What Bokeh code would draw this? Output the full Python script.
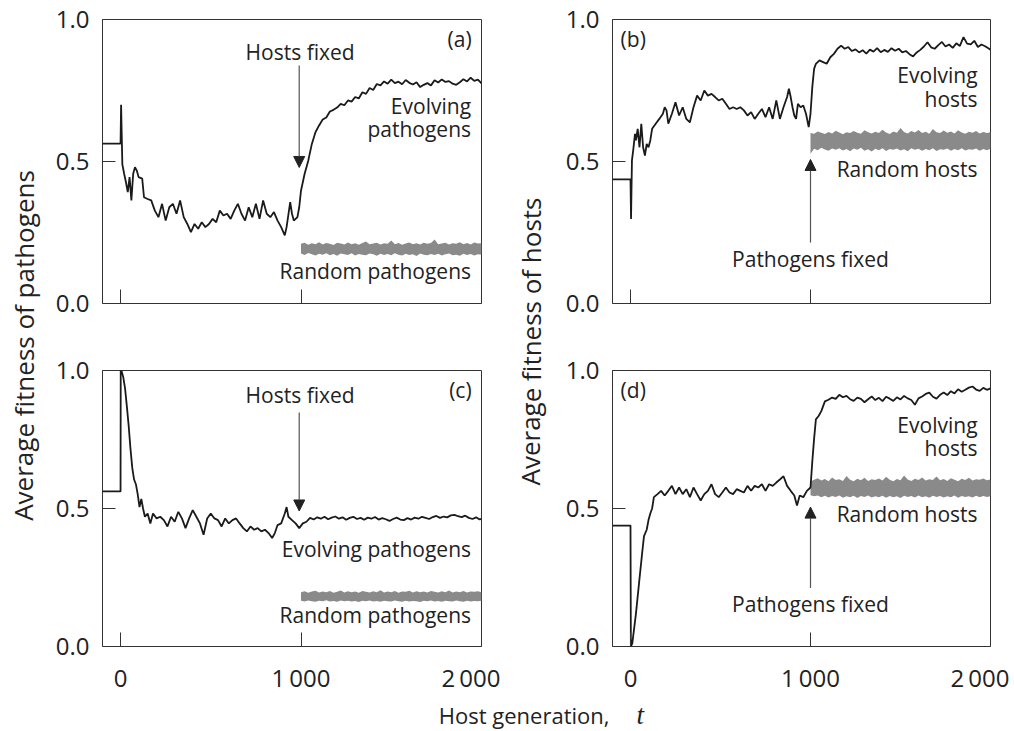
from bokeh.plotting import figure
from bokeh.layouts import row, column
from bokeh.models import Range1d, FixedTicker, PrintfTickFormatter, Label, Arrow, NormalHead
from bokeh.embed import file_html
from bokeh.resources import INLINE

FONT = "Open Sans"
TXT = "#222222"
LINE = "#1a1a1a"
GRAY = "#8a8a8a"

tick_marks = [0, 1000, 2000]
# the "2 000" label sits a little left of its tick so it stays inside the page
label_pos = [0, 1000, 1942]
x_tick_labels = {0: "0", 1000: "1\u2009000", 1942: "2\u2009000"}
y_ticks = [0, 0.5, 1.0]

# ---- panel (a): evolving pathogens, hosts fixed at t=1000
xa = [-100, 0, 3, 10, 20, 30, 40, 50, 60, 70,
      80, 90, 100, 120, 130, 150, 170, 190, 210, 230,
      250, 270, 290, 310, 330, 350, 370, 390, 410, 430,
      450, 470, 490, 510, 530, 550, 570, 590, 610, 630,
      650, 670, 690, 710, 730, 750, 770, 790, 810, 830,
      850, 870, 890, 910, 920, 940, 950, 960, 980, 990,
      1000, 1020, 1040, 1060, 1080, 1100, 1120, 1140, 1160, 1180,
      1200, 1220, 1240, 1260, 1280, 1300, 1320, 1340, 1360, 1380,
      1400, 1420, 1440, 1460, 1480, 1500, 1520, 1540, 1560, 1580,
      1600, 1620, 1640, 1660, 1680, 1700, 1720, 1740, 1760, 1780,
      1800, 1820, 1840, 1860, 1880, 1900, 1920, 1940, 1960, 1980,
      2000]
ya = [0.563, 0.563, 0.700, 0.490, 0.457, 0.427, 0.392, 0.445, 0.363, 0.457,
      0.480, 0.468, 0.445, 0.440, 0.374, 0.368, 0.363, 0.327, 0.304, 0.351,
      0.292, 0.339, 0.351, 0.316, 0.363, 0.304, 0.280, 0.251, 0.280, 0.263,
      0.286, 0.269, 0.280, 0.298, 0.286, 0.327, 0.310, 0.316, 0.298, 0.327,
      0.351, 0.316, 0.292, 0.339, 0.304, 0.351, 0.298, 0.363, 0.316, 0.304,
      0.322, 0.292, 0.269, 0.240, 0.269, 0.357, 0.316, 0.292, 0.304, 0.339,
      0.398, 0.457, 0.503, 0.562, 0.603, 0.627, 0.648, 0.655, 0.676, 0.682,
      0.690, 0.703, 0.698, 0.715, 0.711, 0.727, 0.722, 0.744, 0.738, 0.759,
      0.752, 0.773, 0.768, 0.782, 0.774, 0.788, 0.776, 0.781, 0.772, 0.787,
      0.777, 0.771, 0.779, 0.762, 0.770, 0.776, 0.768, 0.786, 0.778, 0.789,
      0.780, 0.783, 0.774, 0.770, 0.779, 0.790, 0.782, 0.795, 0.784, 0.788,
      0.775]
rand_a_hi = [0.210, 0.214, 0.207, 0.212, 0.209, 0.216, 0.208, 0.213, 0.210, 0.206,
             0.214, 0.211, 0.208, 0.215, 0.209, 0.212, 0.207, 0.213, 0.218, 0.209,
             0.211, 0.214, 0.208, 0.212, 0.210, 0.222, 0.209, 0.213, 0.207, 0.211,
             0.215, 0.209, 0.212, 0.208, 0.214, 0.210, 0.213, 0.225, 0.209, 0.211,
             0.214, 0.208, 0.212, 0.210, 0.216, 0.209, 0.213, 0.208, 0.215, 0.211,
             0.212]
rand_a_lo = [0.176, 0.171, 0.178, 0.173, 0.169, 0.175, 0.172, 0.177, 0.170, 0.174,
             0.168, 0.176, 0.173, 0.171, 0.177, 0.169, 0.174, 0.172, 0.170, 0.176,
             0.173, 0.168, 0.175, 0.171, 0.174, 0.170, 0.177, 0.172, 0.169, 0.175,
             0.171, 0.173, 0.167, 0.176, 0.172, 0.170, 0.174, 0.171, 0.175, 0.169,
             0.173, 0.176, 0.170, 0.172, 0.168, 0.175, 0.171, 0.174, 0.169, 0.173,
             0.172]

# ---- panel (b): evolving hosts, pathogens fixed at t=1000
xb = [-100, 0, 3, 8, 15, 25, 30, 40, 50, 60,
      70, 80, 90, 100, 110, 120, 140, 160, 180, 190,
      200, 210, 230, 250, 270, 290, 310, 330, 350, 370,
      390, 410, 430, 450, 470, 490, 510, 530, 550, 570,
      590, 610, 630, 650, 670, 690, 710, 730, 750, 770,
      790, 810, 830, 850, 870, 880, 890, 900, 910, 920,
      930, 945, 960, 975, 990, 1000, 1010, 1020, 1030, 1050,
      1070, 1090, 1110, 1130, 1150, 1170, 1190, 1210, 1230, 1250,
      1270, 1290, 1310, 1330, 1350, 1370, 1390, 1410, 1430, 1450,
      1470, 1490, 1510, 1530, 1550, 1570, 1590, 1610, 1630, 1650,
      1670, 1690, 1710, 1730, 1750, 1770, 1790, 1810, 1830, 1850,
      1870, 1890, 1910, 1930, 1950, 1970, 1990, 2000]
yb = [0.437, 0.437, 0.298, 0.504, 0.539, 0.597, 0.574, 0.615, 0.550, 0.633,
      0.550, 0.521, 0.562, 0.550, 0.574, 0.615, 0.633, 0.650, 0.668, 0.691,
      0.680, 0.633, 0.668, 0.709, 0.662, 0.691, 0.650, 0.638, 0.691, 0.732,
      0.715, 0.750, 0.732, 0.738, 0.727, 0.715, 0.721, 0.703, 0.685, 0.691,
      0.685, 0.691, 0.680, 0.662, 0.674, 0.650, 0.668, 0.685, 0.656, 0.691,
      0.650, 0.715, 0.650, 0.691, 0.727, 0.756, 0.727, 0.691, 0.662, 0.650,
      0.703, 0.691, 0.697, 0.668, 0.621, 0.668, 0.762, 0.826, 0.844, 0.856,
      0.850, 0.844, 0.867, 0.879, 0.897, 0.908, 0.897, 0.903, 0.889, 0.895,
      0.884, 0.892, 0.880, 0.894, 0.887, 0.899, 0.885, 0.893, 0.886, 0.899,
      0.890, 0.897, 0.884, 0.889, 0.878, 0.870, 0.884, 0.893, 0.905, 0.920,
      0.902, 0.897, 0.910, 0.921, 0.905, 0.912, 0.900, 0.916, 0.907, 0.938,
      0.915, 0.912, 0.925, 0.903, 0.912, 0.906, 0.898, 0.893]
rand_b_hi = [0.600, 0.598, 0.606, 0.601, 0.597, 0.604, 0.599, 0.608, 0.602, 0.596,
             0.603, 0.600, 0.607, 0.601, 0.598, 0.610, 0.603, 0.599, 0.605, 0.600,
             0.612, 0.602, 0.597, 0.606, 0.601, 0.618, 0.604, 0.599, 0.607, 0.602,
             0.611, 0.600, 0.605, 0.598, 0.614, 0.603, 0.600, 0.609, 0.601, 0.606,
             0.599, 0.610, 0.602, 0.598, 0.605, 0.601, 0.607, 0.599, 0.604, 0.600,
             0.603]
rand_b_lo = [0.527, 0.545, 0.540, 0.548, 0.542, 0.538, 0.546, 0.541, 0.547, 0.539,
             0.544, 0.536, 0.546, 0.541, 0.548, 0.538, 0.543, 0.535, 0.545, 0.540,
             0.547, 0.537, 0.544, 0.541, 0.546, 0.539, 0.543, 0.536, 0.547, 0.541,
             0.545, 0.538, 0.544, 0.540, 0.547, 0.537, 0.543, 0.541, 0.546, 0.538,
             0.544, 0.540, 0.547, 0.539, 0.543, 0.541, 0.546, 0.538, 0.544, 0.540,
             0.545]

# ---- panel (c): evolving pathogens, hosts fixed at t=1000
xc = [-100, 0, 1, 5, 15, 25, 35, 45, 55, 65,
      75, 85, 95, 105, 115, 125, 135, 150, 165, 180,
      200, 220, 240, 260, 280, 300, 320, 340, 360, 380,
      400, 420, 440, 460, 480, 500, 520, 540, 560, 580,
      600, 620, 640, 660, 680, 700, 720, 740, 760, 780,
      800, 820, 840, 855, 870, 890, 910, 920, 930, 950,
      970, 990, 1010, 1030, 1050, 1070, 1090, 1110, 1130, 1150,
      1170, 1190, 1210, 1230, 1250, 1270, 1290, 1310, 1330, 1350,
      1370, 1390, 1410, 1430, 1450, 1470, 1490, 1510, 1530, 1550,
      1570, 1590, 1610, 1630, 1650, 1670, 1690, 1710, 1730, 1750,
      1770, 1790, 1810, 1830, 1850, 1870, 1890, 1910, 1930, 1950,
      1970, 1990, 2000]
yc = [0.562, 0.562, 1.000, 1.000, 0.976, 0.935, 0.870, 0.800, 0.717, 0.647,
      0.605, 0.588, 0.552, 0.505, 0.535, 0.499, 0.470, 0.482, 0.446, 0.482,
      0.464, 0.470, 0.458, 0.435, 0.470, 0.452, 0.488, 0.464, 0.429, 0.464,
      0.494, 0.470, 0.446, 0.405, 0.464, 0.482, 0.464, 0.458, 0.435, 0.464,
      0.446, 0.458, 0.464, 0.446, 0.429, 0.417, 0.435, 0.423, 0.429, 0.417,
      0.423, 0.411, 0.393, 0.411, 0.440, 0.446, 0.482, 0.505, 0.470, 0.458,
      0.446, 0.429, 0.446, 0.452, 0.466, 0.460, 0.468, 0.463, 0.470, 0.461,
      0.467, 0.471, 0.463, 0.468, 0.459, 0.466, 0.470, 0.462, 0.466, 0.459,
      0.467, 0.463, 0.469, 0.460, 0.465, 0.461, 0.455, 0.462, 0.467, 0.460,
      0.458, 0.465, 0.460, 0.467, 0.463, 0.470, 0.466, 0.462, 0.469, 0.473,
      0.466, 0.471, 0.468, 0.475, 0.477, 0.472, 0.469, 0.474, 0.466, 0.462,
      0.468, 0.460, 0.463]
rand_c_hi = [0.197, 0.200, 0.195, 0.199, 0.202, 0.196, 0.199, 0.197, 0.201, 0.195,
             0.198, 0.203, 0.196, 0.200, 0.197, 0.199, 0.195, 0.201, 0.198, 0.196,
             0.200, 0.197, 0.204, 0.196, 0.199, 0.197, 0.201, 0.195, 0.199, 0.198,
             0.202, 0.196, 0.200, 0.197, 0.199, 0.196, 0.201, 0.198, 0.196, 0.200,
             0.197, 0.203, 0.196, 0.199, 0.197, 0.201, 0.196, 0.199, 0.198, 0.200,
             0.197]
rand_c_lo = [0.166, 0.163, 0.167, 0.164, 0.162, 0.166, 0.164, 0.168, 0.163, 0.165,
             0.162, 0.167, 0.164, 0.166, 0.163, 0.165, 0.161, 0.166, 0.164, 0.167,
             0.163, 0.165, 0.162, 0.166, 0.164, 0.163, 0.167, 0.164, 0.162, 0.166,
             0.163, 0.165, 0.164, 0.161, 0.166, 0.164, 0.167, 0.163, 0.165, 0.162,
             0.166, 0.164, 0.163, 0.167, 0.164, 0.162, 0.166, 0.163, 0.165, 0.164,
             0.166]

# ---- panel (d): evolving hosts, pathogens fixed at t=1000
xd = [-100, 0, 2, 10, 30, 50, 65, 75, 90, 100,
      110, 120, 130, 150, 170, 190, 210, 230, 250, 270,
      290, 310, 330, 350, 370, 390, 410, 430, 450, 470,
      490, 510, 530, 550, 570, 590, 610, 630, 650, 670,
      690, 710, 730, 750, 770, 790, 810, 830, 850, 870,
      890, 910, 925, 940, 960, 980, 1000, 1010, 1020, 1030,
      1045, 1060, 1080, 1100, 1120, 1140, 1160, 1180, 1200, 1220,
      1240, 1260, 1280, 1300, 1320, 1340, 1360, 1380, 1400, 1420,
      1440, 1460, 1480, 1500, 1520, 1540, 1560, 1580, 1600, 1620,
      1640, 1660, 1680, 1700, 1720, 1740, 1760, 1780, 1800, 1820,
      1840, 1860, 1880, 1900, 1920, 1940, 1960, 1980, 2000]
yd = [0.438, 0.438, 0.000, 0.011, 0.117, 0.246, 0.340, 0.400, 0.423, 0.458,
      0.482, 0.500, 0.541, 0.552, 0.564, 0.547, 0.564, 0.582, 0.552, 0.576,
      0.552, 0.570, 0.541, 0.576, 0.552, 0.529, 0.552, 0.564, 0.588, 0.552,
      0.541, 0.558, 0.576, 0.558, 0.552, 0.570, 0.564, 0.558, 0.582, 0.564,
      0.582, 0.576, 0.588, 0.564, 0.588, 0.582, 0.594, 0.605, 0.617, 0.582,
      0.564, 0.547, 0.511, 0.547, 0.541, 0.564, 0.576, 0.670, 0.753, 0.823,
      0.835, 0.853, 0.888, 0.894, 0.902, 0.897, 0.912, 0.903, 0.908, 0.896,
      0.890, 0.902, 0.897, 0.885, 0.896, 0.906, 0.893, 0.901, 0.889, 0.905,
      0.898, 0.890, 0.903, 0.895, 0.908, 0.899, 0.893, 0.876, 0.899, 0.906,
      0.915, 0.920, 0.905, 0.898, 0.912, 0.920, 0.911, 0.925, 0.917, 0.932,
      0.923, 0.930, 0.938, 0.942, 0.931, 0.926, 0.937, 0.930, 0.935]
rand_d_hi = [0.598, 0.604, 0.610, 0.601, 0.607, 0.599, 0.612, 0.603, 0.606, 0.600,
             0.618, 0.604, 0.599, 0.608, 0.602, 0.611, 0.600, 0.606, 0.603, 0.609,
             0.601, 0.615, 0.604, 0.599, 0.607, 0.602, 0.620, 0.605, 0.600, 0.608,
             0.603, 0.612, 0.601, 0.606, 0.603, 0.616, 0.602, 0.607, 0.600, 0.610,
             0.604, 0.599, 0.608, 0.603, 0.611, 0.601, 0.606, 0.604, 0.609, 0.602,
             0.605]
rand_d_lo = [0.548, 0.544, 0.547, 0.541, 0.546, 0.540, 0.545, 0.542, 0.547, 0.539,
             0.544, 0.541, 0.546, 0.538, 0.545, 0.542, 0.547, 0.540, 0.544, 0.541,
             0.546, 0.539, 0.545, 0.541, 0.544, 0.538, 0.546, 0.542, 0.545, 0.540,
             0.547, 0.541, 0.544, 0.539, 0.546, 0.542, 0.545, 0.540, 0.544, 0.541,
             0.547, 0.539, 0.545, 0.542, 0.544, 0.540, 0.546, 0.541, 0.545, 0.542,
             0.544]

# random-series band: sampled every 20 generations from t = 1000
rand_step = 20
rand_start = 1000


def make_panel(width, height, mbl, mbr, mbt, mbb, bottom_labels):
    p = figure(width=width, height=height, x_range=Range1d(-100, 2000), y_range=Range1d(0, 1),
               output_backend="svg", toolbar_location=None,
               min_border_left=mbl, min_border_right=mbr, min_border_top=mbt, min_border_bottom=mbb)
    p.grid.visible = False
    p.outline_line_color = "#333333"
    p.outline_line_width = 1
    p.background_fill_color = "white"
    p.border_fill_color = "white"
    # minor ticks carry the tick marks, major ticks only position the labels
    p.xaxis.ticker = FixedTicker(ticks=label_pos, minor_ticks=tick_marks)
    p.xaxis.major_tick_line_color = None
    p.xaxis.minor_tick_line_color = "#333333"
    p.xaxis.minor_tick_in = 14
    p.xaxis.minor_tick_out = 0
    p.yaxis.ticker = FixedTicker(ticks=y_ticks)
    p.yaxis.formatter = PrintfTickFormatter(format="%.1f")
    p.yaxis.major_tick_in = 13
    p.yaxis.major_tick_out = 0
    p.yaxis.major_tick_line_color = "#333333"
    p.yaxis.minor_tick_line_color = None
    p.axis.axis_line_color = None
    p.axis.major_label_text_font = FONT
    p.axis.major_label_text_color = TXT
    p.axis.major_label_text_font_size = "24px"
    p.yaxis.major_label_standoff = 13
    p.xaxis.major_label_standoff = 8
    if bottom_labels:
        p.xaxis.major_label_overrides = x_tick_labels
    else:
        p.xaxis.major_label_overrides = {t: "" for t in label_pos}
        p.xaxis.major_label_text_font_size = "1px"
        p.xaxis.major_label_standoff = 0
    return p


def add_series(p, xs, ys, hi, lo):
    xr = [rand_start + rand_step * i for i in range(len(hi))]
    p.varea(x=xr, y1=lo, y2=hi, fill_color=GRAY, fill_alpha=1.0)
    p.line(xs, ys, line_color=LINE, line_width=1.8)


def txt(p, x, y, s, align="right", size="21px"):
    p.add_layout(Label(x=x, y=y, text=s, text_align=align, text_baseline="alphabetic",
                       text_font=FONT, text_font_size=size, text_color=TXT))


def arrow(p, x, y0, y1):
    p.add_layout(Arrow(end=NormalHead(size=11, fill_color="#222222", line_color="#222222", line_width=1),
                       x_start=x, y_start=y0, x_end=x, y_end=y1,
                       line_color="#555555", line_width=1.2))


TOP_H = 336
BOT_H = 360
W1 = 455
W2 = 456

pa = make_panel(W1, TOP_H, 54, 22, 19, 33, False)
add_series(pa, xa, ya, rand_a_hi, rand_a_lo)
txt(pa, 1945, 0.933, "(a)")
txt(pa, 995, 0.887, "Hosts fixed", align="center")
arrow(pa, 990, 0.838, 0.479)
txt(pa, 1942, 0.694, "Evolving")
txt(pa, 1942, 0.613, "pathogens")
txt(pa, 1942, 0.116, "Random pathogens")

pb = make_panel(W2, TOP_H, 56, 22, 19, 33, False)
add_series(pb, xb, yb, rand_b_hi, rand_b_lo)
txt(pb, -55, 0.933, "(b)", align="left")
txt(pb, 1928, 0.804, "Evolving")
txt(pb, 1928, 0.719, "hosts")
txt(pb, 1928, 0.472, "Random hosts")
txt(pb, 1000, 0.156, "Pathogens fixed", align="center")
arrow(pb, 1000, 0.215, 0.507)

pc = make_panel(W1, BOT_H, 54, 22, 34, 43, True)
add_series(pc, xc, yc, rand_c_hi, rand_c_lo)
txt(pc, 1945, 0.929, "(c)")
txt(pc, 995, 0.913, "Hosts fixed", align="center")
arrow(pc, 990, 0.848, 0.491)
txt(pc, 1942, 0.354, "Evolving pathogens")
txt(pc, 1942, 0.115, "Random pathogens")

pd_ = make_panel(W2, BOT_H, 56, 22, 34, 43, True)
add_series(pd_, xd, yd, rand_d_hi, rand_d_lo)
txt(pd_, -55, 0.929, "(d)", align="left")
txt(pd_, 1928, 0.804, "Evolving")
txt(pd_, 1928, 0.720, "hosts")
txt(pd_, 1928, 0.480, "Random hosts")
txt(pd_, 1000, 0.154, "Pathogens fixed", align="center")
arrow(pd_, 1000, 0.212, 0.505)


def label_fig(w, h):
    f = figure(width=w, height=h, x_range=Range1d(0, w), y_range=Range1d(0, h),
               output_backend="svg", toolbar_location=None,
               x_axis_location=None, y_axis_location=None,
               min_border=0, min_border_left=0, min_border_right=0,
               min_border_top=0, min_border_bottom=0)
    f.grid.visible = False
    f.outline_line_color = None
    f.background_fill_color = "white"
    f.border_fill_color = "white"
    return f


COL_H = TOP_H + BOT_H
lf = label_fig(48, COL_H)
lf.add_layout(Label(x=23, y=COL_H - 345, text="Average fitness of pathogens", angle=1.5707963,
                    text_align="center", text_baseline="alphabetic",
                    text_font=FONT, text_font_size="26px", text_color=TXT))
mf = label_fig(53, COL_H)
mf.add_layout(Label(x=27, y=COL_H - 341, text="Average fitness of hosts", angle=1.5707963,
                    text_align="center", text_baseline="alphabetic",
                    text_font=FONT, text_font_size="26px", text_color=TXT))
XF_H = 34
xf = label_fig(48 + W1 + 53 + W2, XF_H)
xf.add_layout(Label(x=609, y=15.5, text="Host generation,", text_align="right", text_baseline="alphabetic",
                    text_font=FONT, text_font_size="22px", text_color=TXT))
xf.add_layout(Label(x=636, y=16, text="t", text_align="left", text_baseline="alphabetic",
                    text_font="Liberation Serif", text_font_style="italic", text_font_size="27px",
                    text_color=TXT))

layout = column(row(lf, column(pa, pc), mf, column(pb, pd_)), xf)

open("out.html", "w").write(file_html(layout, INLINE))
